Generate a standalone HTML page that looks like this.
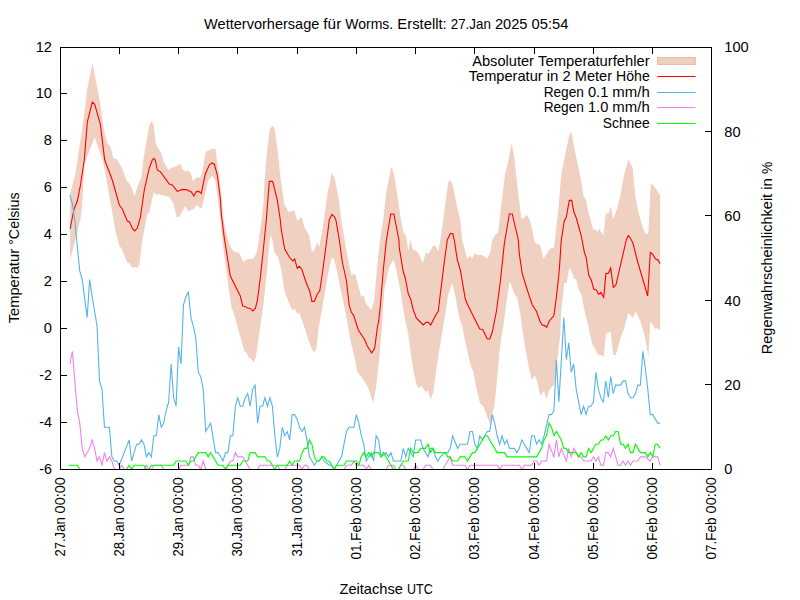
<!DOCTYPE html>
<html><head><meta charset="utf-8"><title>Wettervorhersage</title>
<style>
html,body{margin:0;padding:0;background:#fff;overflow:hidden;}
svg{display:block}
text{font-family:"Liberation Sans",sans-serif;font-size:14.1px;fill:#000}
</style></head><body>
<svg width="800" height="600" viewBox="0 0 800 600">
<rect width="800" height="600" fill="#fff"/>
<path d="M70.10,194.00 L75.30,174.00 L76.00,170.00 L84.00,116.00 L87.00,90.00 L89.00,80.00 L92.40,63.00 L97.00,86.00 L100.00,102.00 L104.00,130.00 L107.00,142.00 L111.00,148.00 L113.30,158.00 L117.00,159.50 L122.00,168.00 L126.30,180.00 L130.30,185.00 L134.70,196.00 L138.30,184.00 L141.30,178.00 L143.30,160.00 L149.30,125.00 L151.70,121.00 L153.70,125.00 L155.90,144.00 L158.70,149.00 L161.50,153.50 L163.70,161.70 L168.20,170.00 L171.20,167.70 L175.00,166.70 L178.00,165.20 L180.70,163.70 L182.50,169.20 L185.80,171.80 L188.50,170.70 L190.70,173.00 L193.00,181.20 L196.00,177.50 L200.50,177.50 L202.70,170.00 L205.70,152.00 L208.00,150.80 L211.00,149.00 L215.50,149.00 L217.00,161.00 L220.00,180.50 L223.30,218.00 L226.30,234.00 L230.30,247.00 L234.30,252.00 L238.30,252.40 L240.30,255.00 L243.30,262.00 L247.30,259.00 L252.30,259.00 L254.70,257.00 L257.30,250.00 L261.30,222.00 L263.30,205.00 L264.30,184.00 L267.30,148.00 L269.90,129.00 L272.70,125.60 L274.70,129.00 L277.30,148.00 L280.30,176.00 L284.30,204.00 L288.30,212.00 L294.30,210.40 L297.30,221.00 L300.30,218.00 L301.90,218.00 L304.30,227.00 L309.30,236.00 L311.90,252.00 L314.30,250.00 L317.30,242.00 L319.30,247.00 L322.30,230.00 L325.30,210.00 L327.30,194.00 L331.90,173.00 L334.30,177.00 L338.30,196.00 L341.30,220.00 L342.30,226.00 L346.30,250.00 L351.30,275.00 L355.30,274.00 L358.30,286.00 L361.30,297.00 L363.30,295.00 L366.30,304.00 L371.30,310.00 L374.30,300.00 L377.30,265.00 L380.30,238.00 L383.30,220.00 L386.30,192.00 L391.30,166.40 L393.90,174.00 L396.30,188.00 L400.30,216.00 L403.30,232.00 L405.90,236.00 L406.70,240.00 L408.30,251.00 L410.30,240.00 L412.70,249.00 L416.30,251.00 L418.30,253.00 L422.70,263.00 L425.90,252.40 L428.30,254.00 L433.30,245.60 L435.30,245.60 L438.30,251.00 L440.30,240.00 L443.30,220.00 L446.30,196.00 L448.30,182.00 L450.30,180.00 L452.70,185.00 L457.30,208.00 L460.30,220.00 L462.30,240.00 L465.30,252.00 L467.70,259.00 L469.70,255.60 L472.30,258.00 L474.70,253.00 L477.30,255.00 L482.30,255.00 L487.30,259.00 L490.30,252.00 L492.30,240.00 L495.30,235.00 L498.30,232.00 L502.30,196.00 L505.30,172.00 L507.30,166.00 L511.70,143.00 L514.30,158.00 L518.30,194.00 L521.30,218.00 L522.30,219.00 L526.90,215.00 L529.30,219.00 L532.30,230.00 L534.30,240.00 L535.30,243.00 L540.30,245.00 L543.30,259.00 L548.30,251.00 L551.30,248.00 L553.90,248.00 L555.30,236.00 L558.30,210.00 L561.30,174.00 L565.30,154.00 L569.30,135.00 L571.30,131.60 L574.30,148.00 L578.30,167.00 L581.30,182.00 L583.30,195.00 L585.90,200.00 L588.30,212.00 L593.30,230.00 L595.30,229.00 L597.30,232.00 L599.30,229.00 L603.30,236.00 L605.90,213.00 L608.30,214.00 L610.70,206.00 L613.30,219.00 L617.30,208.00 L620.30,196.00 L624.30,174.00 L628.30,159.60 L632.70,168.00 L635.30,196.00 L638.30,212.00 L642.30,226.00 L645.30,234.00 L648.30,233.60 L650.72,184.40 L652.80,184.40 L660.10,195.00 L660.10,331.00 L658.01,328.00 L655.51,329.00 L650.30,321.00 L648.30,357.00 L646.30,344.00 L644.30,334.00 L640.30,321.00 L635.90,311.60 L632.90,317.40 L630.30,315.00 L628.30,313.00 L624.30,328.00 L620.30,339.00 L619.30,342.00 L615.90,355.00 L613.30,355.00 L612.90,352.00 L610.70,332.00 L608.30,332.40 L605.90,334.00 L603.70,357.00 L601.30,355.00 L598.30,355.00 L592.30,344.00 L588.30,326.00 L584.30,310.00 L581.30,294.00 L578.70,290.00 L576.30,279.00 L574.30,279.00 L571.30,271.00 L569.30,267.60 L566.70,283.00 L564.30,283.00 L561.30,310.00 L560.30,335.00 L557.30,360.00 L554.30,384.00 L549.30,390.00 L546.30,399.00 L543.90,391.00 L540.30,396.00 L537.30,382.00 L534.70,375.00 L532.30,380.00 L529.30,370.00 L526.30,354.00 L523.30,336.00 L520.30,314.00 L517.30,298.00 L514.30,294.00 L509.70,281.00 L507.30,296.00 L503.30,326.00 L501.30,338.00 L499.30,354.00 L496.30,388.00 L494.30,406.00 L492.30,414.00 L489.90,424.00 L483.30,406.00 L480.30,404.00 L476.30,388.00 L473.30,372.00 L470.30,364.00 L466.30,346.00 L464.30,338.00 L462.30,326.00 L459.30,318.00 L455.30,296.00 L452.30,283.00 L448.30,294.00 L444.30,320.00 L441.30,338.00 L439.30,350.00 L436.30,370.00 L433.30,392.00 L430.70,399.60 L427.90,390.00 L426.30,392.00 L424.70,391.00 L421.90,386.00 L418.30,388.00 L416.30,384.00 L413.30,370.00 L410.30,350.00 L408.30,334.00 L404.30,316.00 L400.30,290.00 L395.90,268.00 L393.30,259.60 L389.30,267.00 L384.30,290.00 L381.30,335.00 L379.30,358.00 L376.30,386.00 L373.30,403.00 L368.30,388.00 L362.30,378.00 L357.30,372.00 L354.30,356.00 L350.30,340.00 L347.30,322.00 L344.30,306.00 L340.30,288.00 L336.30,268.00 L333.90,259.00 L331.50,258.00 L329.30,268.00 L326.30,284.00 L322.60,306.00 L318.30,330.00 L316.70,347.00 L314.30,352.40 L312.30,350.00 L308.30,340.00 L305.30,330.00 L302.30,321.00 L299.30,313.00 L297.30,314.00 L294.70,309.00 L292.30,310.00 L289.30,304.00 L284.30,290.00 L281.30,270.00 L278.30,258.00 L274.30,252.00 L272.30,239.00 L270.30,236.00 L269.30,244.00 L266.30,278.00 L263.30,306.00 L260.30,326.00 L255.90,357.00 L253.90,362.40 L251.30,359.00 L248.30,357.00 L246.30,352.00 L244.30,351.00 L241.30,340.00 L238.30,330.00 L235.30,318.00 L231.30,306.00 L228.30,286.00 L222.30,240.00 L220.30,218.00 L215.30,180.00 L212.30,176.00 L208.30,180.00 L204.30,198.00 L201.30,209.00 L197.30,205.00 L193.30,209.00 L188.30,211.60 L185.30,206.00 L179.30,217.00 L176.70,217.00 L173.30,203.00 L169.30,197.00 L158.30,194.00 L156.70,195.60 L153.90,192.00 L149.30,212.00 L147.30,214.00 L142.30,240.00 L139.30,265.00 L137.30,268.00 L135.30,267.00 L132.30,268.00 L129.30,263.00 L127.30,263.00 L121.30,248.00 L119.30,246.00 L115.30,230.00 L108.30,190.00 L102.80,160.00 L94.70,137.60 L84.70,163.00 L81.90,208.00 L80.30,220.00 L75.30,240.00 L70.10,260.00 Z" fill="#f0d1c1" stroke="none"/>
<rect x="657.6" y="57.6" width="37.7" height="6.8" fill="#f0d1c1" stroke="#e6b9a1" stroke-width="1"/>
<g fill="none" stroke-width="1.1" stroke-linejoin="miter">
<path d="M70.10,229.00 L73.90,209.60 L77.30,201.00 L80.30,186.00 L84.30,160.00 L87.30,122.00 L92.30,102.00 L94.70,104.40 L100.30,124.00 L104.70,160.00 L112.30,180.00 L119.30,205.00 L122.30,209.00 L127.30,221.00 L129.30,221.60 L132.70,229.00 L134.70,231.00 L137.30,228.00 L140.30,218.00 L144.30,190.00 L149.30,168.00 L152.30,160.00 L153.90,158.40 L155.30,160.00 L157.30,170.00 L160.30,171.60 L169.30,184.00 L172.30,185.00 L177.30,191.40 L182.30,189.40 L186.30,189.60 L191.30,192.00 L193.90,196.00 L196.30,191.60 L198.70,191.40 L201.30,193.60 L205.30,174.00 L209.30,165.00 L211.90,163.00 L214.30,164.00 L217.30,175.00 L220.30,198.00 L221.30,214.00 L224.30,238.00 L230.30,276.00 L240.30,296.00 L242.70,306.00 L245.30,306.40 L247.30,308.00 L250.30,308.40 L252.70,311.00 L255.30,308.40 L257.30,301.00 L260.30,278.00 L263.30,250.00 L266.30,220.00 L269.30,181.40 L272.70,181.40 L277.30,200.00 L280.30,220.00 L281.30,230.00 L284.70,249.00 L289.30,257.00 L292.70,261.00 L294.70,259.00 L297.30,268.40 L299.30,266.40 L301.70,269.00 L306.30,283.00 L309.70,291.00 L311.90,301.40 L314.30,301.40 L317.30,294.00 L319.70,291.00 L322.30,274.00 L327.30,236.00 L329.30,220.00 L331.90,214.50 L334.30,216.50 L335.90,220.00 L339.30,240.00 L342.30,262.00 L346.30,280.00 L349.30,306.00 L351.30,312.00 L353.90,316.00 L358.30,330.00 L364.30,339.00 L367.30,346.00 L371.70,353.00 L374.70,348.00 L377.30,328.00 L378.80,320.00 L380.30,306.00 L383.30,270.00 L386.30,241.00 L390.70,214.00 L393.90,214.00 L398.90,240.00 L399.30,248.00 L403.30,272.00 L405.30,278.00 L408.30,294.00 L410.70,299.00 L413.30,310.00 L416.30,318.00 L420.30,322.00 L423.30,325.00 L425.90,322.40 L428.30,322.40 L430.70,325.00 L435.30,316.00 L438.30,311.00 L440.30,294.00 L444.30,262.00 L447.30,240.00 L450.30,233.60 L452.70,233.60 L454.30,240.00 L457.30,260.00 L460.30,270.00 L465.30,299.00 L467.30,304.00 L479.70,329.00 L482.70,329.40 L487.30,339.00 L489.70,339.00 L492.30,332.00 L496.30,312.00 L500.30,282.00 L504.30,244.00 L509.30,214.00 L512.30,214.00 L518.30,240.00 L519.30,254.00 L522.30,274.00 L527.30,290.00 L532.30,305.00 L536.30,311.00 L540.30,322.00 L542.30,325.00 L544.70,325.60 L546.70,327.40 L549.30,321.00 L553.90,315.60 L556.30,298.00 L559.30,270.00 L561.30,240.00 L564.30,221.00 L566.30,217.00 L569.30,200.40 L571.70,200.40 L573.90,212.00 L576.30,218.00 L581.30,236.00 L584.30,252.00 L586.30,258.00 L588.70,275.00 L591.30,280.00 L593.70,289.00 L596.30,290.00 L598.70,294.40 L600.90,292.40 L603.70,297.40 L605.90,273.40 L608.30,273.40 L610.70,268.00 L613.30,287.40 L615.90,285.00 L626.30,240.00 L628.30,235.60 L630.30,238.00 L632.90,243.00 L637.70,262.00 L647.70,296.00 L650.30,252.40 L652.80,254.40 L655.51,259.00 L658.01,260.00 L660.10,263.60" stroke="#ff0000"/>
<path stroke-width="1" d="M657.3,76.5 H695.6" stroke="#ff0000"/>
<path d="M69.88,195.20 L72.35,203.64 L74.82,220.52 L77.29,245.84 L79.76,271.16 L82.23,279.60 L87.17,317.58 L89.64,279.60 L92.11,296.48 L97.05,326.02 L99.52,380.88 L101.98,389.32 L104.45,427.30 L109.39,427.30 L111.86,456.84 L114.33,461.06 L116.80,461.06 L119.27,465.28 L124.21,452.62 L129.15,439.96 L131.62,461.06 L136.56,444.18 L139.03,444.18 L141.50,439.96 L143.97,444.18 L146.44,456.84 L148.91,452.62 L151.38,456.84 L153.85,435.74 L156.32,435.74 L158.79,414.64 L161.26,427.30 L163.73,423.08 L166.20,410.42 L168.67,401.98 L171.14,364.00 L173.61,397.76 L176.08,406.20 L178.55,347.12 L181.02,364.00 L183.48,304.92 L185.95,296.48 L188.42,292.26 L190.89,317.58 L193.36,326.02 L195.83,338.68 L198.30,372.44 L200.77,376.66 L203.24,389.32 L205.71,431.52 L210.65,423.08 L215.59,452.62 L218.06,452.62 L220.53,456.84 L223.00,461.06 L225.47,452.62 L227.94,452.62 L230.41,435.74 L232.88,435.74 L235.35,406.20 L237.82,397.76 L240.29,406.20 L242.76,406.20 L245.23,397.76 L247.70,393.54 L250.17,406.20 L252.64,389.32 L255.11,385.10 L257.58,423.08 L260.05,406.20 L262.52,406.20 L264.98,397.76 L267.45,406.20 L269.92,397.76 L272.39,406.20 L274.86,435.74 L277.33,456.84 L279.80,448.40 L282.27,427.30 L284.74,435.74 L287.21,431.52 L289.68,439.96 L292.15,414.64 L294.62,414.64 L297.09,418.86 L299.56,427.30 L302.03,431.52 L304.50,427.30 L306.97,439.96 L309.44,456.84 L311.91,461.06 L314.38,465.28 L316.85,461.06 L319.32,461.06 L321.79,456.84 L324.26,461.06 L329.20,465.28 L331.67,465.28 L334.14,469.50 L336.61,465.28 L339.08,461.06 L341.55,456.84 L344.02,444.18 L346.48,431.52 L348.95,427.30 L353.89,427.30 L356.36,414.64 L358.83,423.08 L361.30,435.74 L363.77,444.18 L366.24,461.06 L368.71,456.84 L371.18,452.62 L373.65,461.06 L376.12,435.74 L378.59,439.96 L381.06,456.84 L386.00,452.62 L388.47,456.84 L390.94,452.62 L393.41,461.06 L400.82,461.06 L403.29,448.40 L405.76,456.84 L408.23,448.40 L410.70,452.62 L413.17,456.84 L415.64,439.96 L420.58,439.96 L423.05,448.40 L425.52,452.62 L427.98,456.84 L430.45,448.40 L432.92,448.40 L435.39,456.84 L437.86,461.06 L440.33,456.84 L445.27,452.62 L447.74,452.62 L450.21,448.40 L452.68,435.74 L457.62,448.40 L460.09,444.18 L467.50,444.18 L469.97,431.52 L472.44,431.52 L474.91,444.18 L477.38,448.40 L479.85,435.74 L482.32,439.96 L484.79,435.74 L487.26,431.52 L489.73,431.52 L492.20,414.64 L494.67,423.08 L497.14,435.74 L499.61,444.18 L502.08,435.74 L504.55,444.18 L507.02,439.96 L509.48,448.40 L514.42,448.40 L516.89,452.62 L519.36,448.40 L521.83,439.96 L524.30,444.18 L529.24,452.62 L531.71,435.74 L534.18,435.74 L536.65,444.18 L539.12,439.96 L541.59,444.18 L544.06,435.74 L549.00,414.64 L551.47,414.64 L553.94,410.42 L556.41,359.78 L558.88,401.98 L561.35,359.78 L563.82,317.58 L566.29,359.78 L568.76,342.90 L571.23,372.44 L573.70,364.00 L576.17,389.32 L578.64,401.98 L581.11,414.64 L583.58,406.20 L586.05,414.64 L588.52,406.20 L590.98,406.20 L593.45,401.98 L595.92,372.44 L598.39,389.32 L600.86,397.76 L603.33,401.98 L605.80,380.88 L608.27,397.76 L610.74,376.66 L613.21,393.54 L615.68,385.10 L620.62,385.10 L623.09,380.88 L625.56,380.88 L628.03,393.54 L630.50,397.76 L632.97,397.76 L635.44,393.54 L637.91,385.10 L640.38,385.10 L642.85,351.34 L645.32,368.22 L647.79,389.32 L650.26,414.64 L652.73,414.64 L657.67,423.08 L660.14,423.08" stroke="#56b4e9"/>
<path stroke-width="1" d="M657.3,92.5 H695.6" stroke="#56b4e9"/>
<path d="M69.88,364.00 L72.35,351.34 L74.82,380.88 L77.29,410.42 L79.76,423.08 L82.23,448.40 L84.70,456.84 L89.64,448.40 L92.11,439.96 L94.58,448.40 L97.05,461.06 L99.52,456.84 L101.98,465.28 L104.45,452.62 L106.92,461.06 L109.39,456.84 L111.86,461.06 L114.33,469.50 L119.27,469.50 L121.74,465.28 L124.21,469.50 L143.97,469.50 L146.44,465.28 L148.91,469.50 L151.38,469.50 L153.85,465.28 L161.26,465.28 L163.73,469.50 L178.55,469.50 L181.02,465.28 L188.42,465.28 L190.89,456.84 L193.36,456.84 L195.83,465.28 L198.30,465.28 L200.77,469.50 L203.24,461.06 L205.71,469.50 L225.47,469.50 L227.94,465.28 L230.41,461.06 L232.88,461.06 L235.35,452.62 L237.82,456.84 L242.76,456.84 L245.23,461.06 L247.70,465.28 L250.17,469.50 L257.58,469.50 L260.05,465.28 L277.33,465.28 L279.80,469.50 L284.74,469.50 L287.21,465.28 L299.56,465.28 L302.03,469.50 L304.50,465.28 L306.97,465.28 L309.44,469.50 L344.02,469.50 L346.48,465.28 L351.42,465.28 L353.89,461.06 L356.36,465.28 L363.77,465.28 L366.24,469.50 L368.71,465.28 L371.18,469.50 L386.00,469.50 L388.47,465.28 L393.41,465.28 L395.88,469.50 L398.35,469.50 L400.82,465.28 L403.29,465.28 L405.76,469.50 L413.17,469.50 L415.64,465.28 L418.11,469.50 L423.05,469.50 L425.52,465.28 L430.45,465.28 L432.92,469.50 L442.80,469.50 L450.21,456.84 L452.68,465.28 L465.03,465.28 L467.50,469.50 L469.97,465.28 L497.14,465.28 L499.61,469.50 L502.08,465.28 L519.36,465.28 L521.83,469.50 L524.30,465.28 L531.71,465.28 L534.18,461.06 L536.65,461.06 L539.12,465.28 L541.59,461.06 L546.53,461.06 L549.00,444.18 L553.94,456.84 L556.41,439.96 L558.88,456.84 L561.35,448.40 L566.29,461.06 L568.76,448.40 L571.23,456.84 L573.70,448.40 L576.17,452.62 L578.64,456.84 L581.11,456.84 L583.58,461.06 L590.98,461.06 L593.45,456.84 L595.92,461.06 L598.39,456.84 L600.86,465.28 L603.33,465.28 L605.80,452.62 L608.27,452.62 L610.74,456.84 L613.21,448.40 L618.15,465.28 L620.62,465.28 L623.09,461.06 L625.56,465.28 L628.03,461.06 L630.50,465.28 L632.97,461.06 L637.91,461.06 L640.38,456.84 L645.32,456.84 L650.26,461.06 L652.73,456.84 L657.67,456.84 L660.14,465.28" stroke="#ee82ee"/>
<path stroke-width="1" d="M657.3,107.5 H695.6" stroke="#ee82ee"/>
<path d="M68.60,465.28 L77.29,465.28 L79.76,469.50 L126.68,469.50 L129.15,465.28 L131.62,469.50 L134.09,465.28 L143.97,465.28 L146.44,469.50 L148.91,469.50 L151.38,465.28 L173.61,465.28 L176.08,461.06 L185.95,461.06 L188.42,465.28 L190.89,461.06 L193.36,461.06 L198.30,452.62 L205.71,452.62 L208.18,456.84 L210.65,452.62 L218.06,465.28 L223.00,465.28 L225.47,469.50 L227.94,465.28 L240.29,465.28 L242.76,461.06 L247.70,461.06 L250.17,452.62 L255.11,452.62 L257.58,456.84 L264.98,456.84 L267.45,461.06 L269.92,461.06 L272.39,465.28 L274.86,469.50 L277.33,465.28 L287.21,465.28 L289.68,461.06 L292.15,465.28 L294.62,461.06 L299.56,461.06 L302.03,452.62 L304.50,448.40 L306.97,448.40 L309.44,439.96 L311.91,444.18 L314.38,456.84 L316.85,461.06 L319.32,461.06 L321.79,456.84 L324.26,456.84 L326.73,461.06 L329.20,461.06 L331.67,465.28 L334.14,469.50 L336.61,465.28 L344.02,465.28 L346.48,461.06 L356.36,461.06 L358.83,465.28 L361.30,456.84 L363.77,452.62 L366.24,456.84 L368.71,452.62 L371.18,456.84 L373.65,452.62 L378.59,452.62 L381.06,456.84 L383.53,452.62 L386.00,456.84 L393.41,469.50 L398.35,469.50 L403.29,461.06 L408.23,461.06 L410.70,448.40 L413.17,452.62 L418.11,452.62 L420.58,448.40 L425.52,448.40 L427.98,444.18 L430.45,452.62 L432.92,448.40 L435.39,452.62 L445.27,452.62 L447.74,456.84 L450.21,456.84 L452.68,461.06 L457.62,461.06 L460.09,456.84 L465.03,456.84 L467.50,461.06 L472.44,452.62 L474.91,452.62 L479.85,444.18 L484.79,435.74 L487.26,435.74 L497.14,452.62 L504.55,452.62 L507.02,456.84 L536.65,456.84 L539.12,452.62 L541.59,448.40 L544.06,439.96 L546.53,435.74 L549.00,423.08 L551.47,427.30 L553.94,435.74 L556.41,431.52 L561.35,439.96 L563.82,448.40 L566.29,448.40 L568.76,452.62 L576.17,452.62 L578.64,456.84 L581.11,452.62 L583.58,456.84 L586.05,456.84 L588.52,448.40 L590.98,452.62 L595.92,444.18 L598.39,444.18 L600.86,439.96 L603.33,439.96 L605.80,435.74 L608.27,439.96 L610.74,435.74 L613.21,435.74 L615.68,431.52 L618.15,431.52 L620.62,444.18 L623.09,444.18 L625.56,448.40 L628.03,444.18 L630.50,452.62 L632.97,452.62 L635.44,444.18 L640.38,452.62 L645.32,452.62 L647.79,456.84 L650.26,452.62 L652.73,456.84 L655.20,444.18 L657.67,444.18 L660.14,448.40" stroke="#00ff00"/>
<path stroke-width="1" d="M657.3,123.5 H695.6" stroke="#00ff00"/>
</g>
<g fill="none" stroke="#000" stroke-width="1" shape-rendering="crispEdges">
<path d="M61,47.5 h6 M61,93.5 h6 M61,140.5 h6 M61,187.5 h6 M61,234.5 h6 M61,281.5 h6 M61,328.5 h6 M61,375.5 h6 M61,422.5 h6 M61,469.5 h6 M711,47.5 h-6 M711,131.5 h-6 M711,215.5 h-6 M711,300.5 h-6 M711,384.5 h-6 M711,469.5 h-6 M119.5,469 v-6 M119.5,48 v6 M178.5,469 v-6 M178.5,48 v6 M237.5,469 v-6 M237.5,48 v6 M297.5,469 v-6 M297.5,48 v6 M356.5,469 v-6 M356.5,48 v6 M415.5,469 v-6 M415.5,48 v6 M474.5,469 v-6 M474.5,48 v6 M534.5,469 v-6 M534.5,48 v6 M593.5,469 v-6 M593.5,48 v6 M652.5,469 v-6 M652.5,48 v6"/>
<rect x="60.5" y="47.5" width="651" height="422"/>
</g>
<g>
<text y="28.80"><tspan x="204.13" textLength="115.16" lengthAdjust="spacingAndGlyphs">Wettervorhersage</tspan> <tspan x="323.36" textLength="17.88" lengthAdjust="spacingAndGlyphs">für</tspan> <tspan x="345.31" textLength="47.98" lengthAdjust="spacingAndGlyphs">Worms.</tspan> <tspan x="397.36" textLength="49.36" lengthAdjust="spacingAndGlyphs">Erstellt:</tspan> <tspan x="450.78" textLength="40.09" lengthAdjust="spacingAndGlyphs">27.Jan</tspan> <tspan x="494.94" textLength="32.58" lengthAdjust="spacingAndGlyphs">2025</tspan> <tspan x="531.58" textLength="36.89" lengthAdjust="spacingAndGlyphs">05:54</tspan></text>
<text y="594.00"><tspan x="339.45" textLength="63.51" lengthAdjust="spacingAndGlyphs">Zeitachse</tspan> <tspan x="407.07" textLength="25.68" lengthAdjust="spacingAndGlyphs">UTC</tspan></text>
<text y="52.30"><tspan x="35.71" textLength="16.29" lengthAdjust="spacingAndGlyphs">12</tspan></text>
<text y="98.30"><tspan x="35.71" textLength="16.29" lengthAdjust="spacingAndGlyphs">10</tspan></text>
<text y="145.30"><tspan x="43.86" textLength="8.14" lengthAdjust="spacingAndGlyphs">8</tspan></text>
<text y="192.30"><tspan x="43.86" textLength="8.14" lengthAdjust="spacingAndGlyphs">6</tspan></text>
<text y="239.30"><tspan x="43.86" textLength="8.14" lengthAdjust="spacingAndGlyphs">4</tspan></text>
<text y="286.30"><tspan x="43.86" textLength="8.14" lengthAdjust="spacingAndGlyphs">2</tspan></text>
<text y="333.30"><tspan x="43.86" textLength="8.14" lengthAdjust="spacingAndGlyphs">0</tspan></text>
<text y="380.30"><tspan x="39.24" textLength="12.76" lengthAdjust="spacingAndGlyphs">-2</tspan></text>
<text y="427.30"><tspan x="39.24" textLength="12.76" lengthAdjust="spacingAndGlyphs">-4</tspan></text>
<text y="474.30"><tspan x="39.24" textLength="12.76" lengthAdjust="spacingAndGlyphs">-6</tspan></text>
<text y="52.30"><tspan x="724.30" textLength="24.43" lengthAdjust="spacingAndGlyphs">100</tspan></text>
<text y="136.70"><tspan x="724.30" textLength="16.29" lengthAdjust="spacingAndGlyphs">80</tspan></text>
<text y="221.10"><tspan x="724.30" textLength="16.29" lengthAdjust="spacingAndGlyphs">60</tspan></text>
<text y="305.50"><tspan x="724.30" textLength="16.29" lengthAdjust="spacingAndGlyphs">40</tspan></text>
<text y="389.90"><tspan x="724.30" textLength="16.29" lengthAdjust="spacingAndGlyphs">20</tspan></text>
<text y="474.30"><tspan x="724.30" textLength="8.14" lengthAdjust="spacingAndGlyphs">0</tspan></text>
<text transform="translate(64.80,477.30) rotate(-90)" y="0"><tspan x="-79.26" textLength="39.21" lengthAdjust="spacingAndGlyphs">27.Jan</tspan> <tspan x="-36.08" textLength="36.08" lengthAdjust="spacingAndGlyphs">00:00</tspan></text>
<text transform="translate(123.80,477.30) rotate(-90)" y="0"><tspan x="-79.26" textLength="39.21" lengthAdjust="spacingAndGlyphs">28.Jan</tspan> <tspan x="-36.08" textLength="36.08" lengthAdjust="spacingAndGlyphs">00:00</tspan></text>
<text transform="translate(182.80,477.30) rotate(-90)" y="0"><tspan x="-79.26" textLength="39.21" lengthAdjust="spacingAndGlyphs">29.Jan</tspan> <tspan x="-36.08" textLength="36.08" lengthAdjust="spacingAndGlyphs">00:00</tspan></text>
<text transform="translate(241.80,477.30) rotate(-90)" y="0"><tspan x="-79.26" textLength="39.21" lengthAdjust="spacingAndGlyphs">30.Jan</tspan> <tspan x="-36.08" textLength="36.08" lengthAdjust="spacingAndGlyphs">00:00</tspan></text>
<text transform="translate(301.80,477.30) rotate(-90)" y="0"><tspan x="-79.26" textLength="39.21" lengthAdjust="spacingAndGlyphs">31.Jan</tspan> <tspan x="-36.08" textLength="36.08" lengthAdjust="spacingAndGlyphs">00:00</tspan></text>
<text transform="translate(360.80,477.30) rotate(-90)" y="0"><tspan x="-82.13" textLength="42.07" lengthAdjust="spacingAndGlyphs">01.Feb</tspan> <tspan x="-36.08" textLength="36.08" lengthAdjust="spacingAndGlyphs">00:00</tspan></text>
<text transform="translate(419.80,477.30) rotate(-90)" y="0"><tspan x="-82.13" textLength="42.07" lengthAdjust="spacingAndGlyphs">02.Feb</tspan> <tspan x="-36.08" textLength="36.08" lengthAdjust="spacingAndGlyphs">00:00</tspan></text>
<text transform="translate(478.80,477.30) rotate(-90)" y="0"><tspan x="-82.13" textLength="42.07" lengthAdjust="spacingAndGlyphs">03.Feb</tspan> <tspan x="-36.08" textLength="36.08" lengthAdjust="spacingAndGlyphs">00:00</tspan></text>
<text transform="translate(538.80,477.30) rotate(-90)" y="0"><tspan x="-82.13" textLength="42.07" lengthAdjust="spacingAndGlyphs">04.Feb</tspan> <tspan x="-36.08" textLength="36.08" lengthAdjust="spacingAndGlyphs">00:00</tspan></text>
<text transform="translate(597.80,477.30) rotate(-90)" y="0"><tspan x="-82.13" textLength="42.07" lengthAdjust="spacingAndGlyphs">05.Feb</tspan> <tspan x="-36.08" textLength="36.08" lengthAdjust="spacingAndGlyphs">00:00</tspan></text>
<text transform="translate(656.80,477.30) rotate(-90)" y="0"><tspan x="-82.13" textLength="42.07" lengthAdjust="spacingAndGlyphs">06.Feb</tspan> <tspan x="-36.08" textLength="36.08" lengthAdjust="spacingAndGlyphs">00:00</tspan></text>
<text transform="translate(715.80,477.30) rotate(-90)" y="0"><tspan x="-82.13" textLength="42.07" lengthAdjust="spacingAndGlyphs">07.Feb</tspan> <tspan x="-36.08" textLength="36.08" lengthAdjust="spacingAndGlyphs">00:00</tspan></text>
<text transform="translate(19.30,257.90) rotate(-90)" y="0"><tspan x="-65.44" textLength="74.37" lengthAdjust="spacingAndGlyphs">Temperatur</tspan> <tspan x="13.05" textLength="52.40" lengthAdjust="spacingAndGlyphs">°Celsius</tspan></text>
<text transform="translate(772.00,257.90) rotate(-90)" y="0"><tspan x="-96.26" textLength="160.30" lengthAdjust="spacingAndGlyphs">Regenwahrscheinlichkeit</tspan> <tspan x="68.14" textLength="11.76" lengthAdjust="spacingAndGlyphs">in</tspan> <tspan x="84.00" textLength="12.26" lengthAdjust="spacingAndGlyphs">%</tspan></text>
<text y="65.60"><tspan x="472.25" textLength="61.73" lengthAdjust="spacingAndGlyphs">Absoluter</tspan> <tspan x="538.08" textLength="111.62" lengthAdjust="spacingAndGlyphs">Temperaturfehler</tspan></text>
<text y="81.20"><tspan x="468.81" textLength="73.81" lengthAdjust="spacingAndGlyphs">Temperatur</tspan> <tspan x="546.71" textLength="11.72" lengthAdjust="spacingAndGlyphs">in</tspan> <tspan x="562.52" textLength="8.18" lengthAdjust="spacingAndGlyphs">2</tspan> <tspan x="574.78" textLength="37.24" lengthAdjust="spacingAndGlyphs">Meter</tspan> <tspan x="616.11" textLength="33.59" lengthAdjust="spacingAndGlyphs">Höhe</tspan></text>
<text y="96.80"><tspan x="543.64" textLength="40.27" lengthAdjust="spacingAndGlyphs">Regen</tspan> <tspan x="587.97" textLength="20.34" lengthAdjust="spacingAndGlyphs">0.1</tspan> <tspan x="612.37" textLength="37.33" lengthAdjust="spacingAndGlyphs">mm/h</tspan></text>
<text y="112.40"><tspan x="543.64" textLength="40.27" lengthAdjust="spacingAndGlyphs">Regen</tspan> <tspan x="587.97" textLength="20.34" lengthAdjust="spacingAndGlyphs">1.0</tspan> <tspan x="612.37" textLength="37.33" lengthAdjust="spacingAndGlyphs">mm/h</tspan></text>
<text y="128.00"><tspan x="602.75" textLength="46.95" lengthAdjust="spacingAndGlyphs">Schnee</tspan></text>
</g>
</svg>
</body></html>
